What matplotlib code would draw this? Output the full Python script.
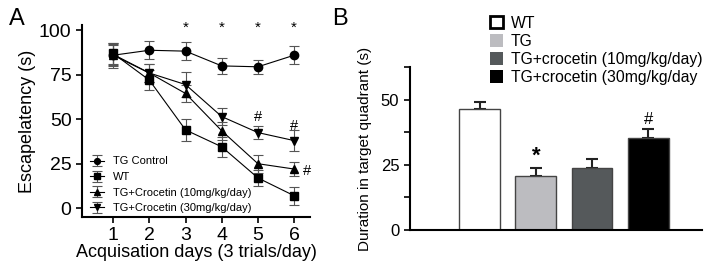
import numpy as np
import matplotlib.pyplot as plt
from matplotlib.patches import Patch

plt.rcParams['font.family'] = ['Liberation Sans', 'DejaVu Sans']

# Panel A: escape latency over acquisition days
days = [1, 2, 3, 4, 5, 6]
tg_control = [86, 88.8, 88.3, 80, 79.5, 86]
tg_control_err = [7, 5, 5, 4.5, 4, 5]
wt = [87, 72, 44, 34.5, 17, 7]
wt_err = [6, 5.5, 6, 5.5, 4.5, 5]
tg_c10 = [86, 76, 64.5, 43.5, 25, 22]
tg_c10_err = [6, 5, 5, 5, 5, 4]
tg_c30 = [86.5, 76, 69.5, 51.5, 42.5, 38]
tg_c30_err = [6, 5, 7, 5, 3.5, 6]
star_days = [3, 4, 5, 6]
hash_a = [(5, 51), (6, 46), (6.24, 21)]

# Panel B: duration in target quadrant
groups = ['WT', 'TG', 'TG+crocetin (10mg/kg/day)', 'TG+crocetin (30mg/kg/day']
duration = [46.3, 20.6, 23.6, 35.4]
duration_err = [2.6, 3.2, 3.7, 3.2]
bar_colors = ['white', '#bcbcc0', '#55595b', 'black']

fig = plt.figure(figsize=(7.09, 2.66), dpi=100)

# ---- Panel A ----
ax1 = fig.add_axes([0.1157, 0.184, 0.3216, 0.722])
series = [
    (tg_control, tg_control_err, 'o', 'TG Control'),
    (wt, wt_err, 's', 'WT'),
    (tg_c10, tg_c10_err, '^', 'TG+Crocetin (10mg/kg/day)'),
    (tg_c30, tg_c30_err, 'v', 'TG+Crocetin (30mg/kg/day)'),
]
for vals, errs, mk, lab in series:
    ax1.errorbar(days, vals, yerr=errs, fmt='-', marker=mk, color='black',
                 ms=6, lw=0.8, ecolor='#555555', elinewidth=0.8, capsize=3.5,
                 capthick=0.8, label=lab)

for d in star_days:
    ax1.text(d, 97.5, '*', ha='center', va='bottom', fontsize=11)
for x, y in hash_a:
    ax1.text(x, y, '#', ha='left' if x > 6 else 'center', va='center', fontsize=10.5)

ax1.set_xlim(0.14, 6.44)
ax1.set_ylim(-5, 103)
ax1.set_xticks(days)
ax1.set_yticks([0, 25, 50, 75, 100])
ax1.tick_params(labelsize=14, width=1.2, length=4)
ax1.spines['top'].set_visible(False)
ax1.spines['right'].set_visible(False)
ax1.spines['left'].set_linewidth(1.5)
ax1.spines['bottom'].set_linewidth(1.5)
ax1.set_xlabel('Acquisation days (3 trials/day)', fontsize=13, labelpad=0)
ax1.set_ylabel('Escapelatency (s)', fontsize=13, labelpad=2)
leg1 = ax1.legend(loc='lower left', bbox_to_anchor=(0.0, -0.02), frameon=False,
                  fontsize=8, handlelength=1.3, labelspacing=0.5,
                  markerscale=0.7, borderaxespad=0.3)

# ---- Panel B ----
ax2 = fig.add_axes([0.578, 0.1353, 0.412, 0.613])
pos = np.arange(1, len(duration) + 1)
ax2.bar(pos, duration, width=0.73, color=bar_colors, edgecolor='#444444',
        linewidth=1.0, zorder=2)
ax2.errorbar(pos, duration, yerr=[np.zeros(len(duration_err)), duration_err],
             fmt='none', ecolor='#222222', elinewidth=1.5, capsize=4,
             capthick=1.5, zorder=1)
ax2.text(pos[1], duration[1] + duration_err[1] + 0.5, '*', ha='center',
         va='bottom', fontsize=16, fontweight='bold')
ax2.text(pos[3], duration[3] + duration_err[3] + 0.8, '#', ha='center',
         va='bottom', fontsize=12)

ax2.set_xlim(-0.25, 4.96)
ax2.set_ylim(0, 62.5)
ax2.set_xticks([])
ax2.set_yticks([0, 12.5, 25, 37.5, 50, 62.5])
ax2.set_yticklabels(['0', '', '25', '', '50', ''])
ax2.tick_params(labelsize=12, width=1.2, length=4)
ax2.spines['top'].set_visible(False)
ax2.spines['right'].set_visible(False)
ax2.spines['left'].set_linewidth(1.5)
ax2.spines['bottom'].set_linewidth(1.5)
ax2.set_ylabel('Duration in target quadrant (s)', fontsize=11, labelpad=6)

handles = [Patch(facecolor='white', edgecolor='black', linewidth=2.0)]
handles += [Patch(facecolor=c, edgecolor='none') for c in bar_colors[1:]]
fig.legend(handles, groups, loc='upper left', bbox_to_anchor=(0.682, 0.965),
           frameon=False, fontsize=11.3, handlelength=0.85, handleheight=0.85,
           handletextpad=0.5, labelspacing=0.2, borderaxespad=0.0)

fig.text(0.012, 0.97, 'A', fontsize=17, va='top', ha='left')
fig.text(0.468, 0.97, 'B', fontsize=17, va='top', ha='left')

fig.savefig('out.png', dpi=100)
